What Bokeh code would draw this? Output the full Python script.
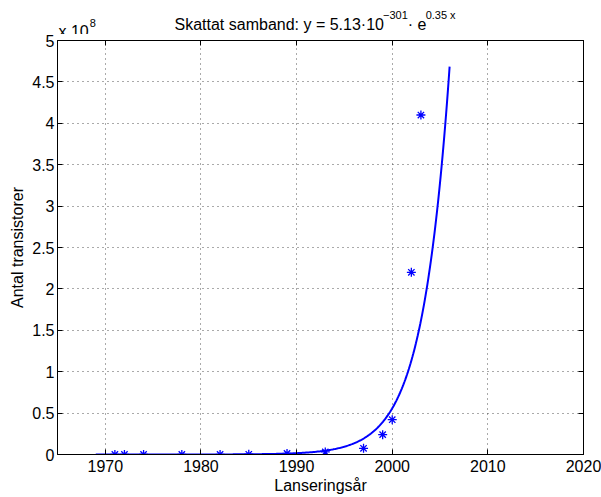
import numpy as np
from bokeh.plotting import figure
from bokeh.layouts import column
from bokeh.models import Range1d, LinearAxis, FixedTicker, ColumnDataSource
from bokeh.core.properties import value
from bokeh.embed import file_html
from bokeh.resources import INLINE

# data: launch year and transistor count
years = [1971, 1972, 1974, 1978, 1982, 1985, 1989, 1993, 1997, 1999, 2000, 2002, 2003]
transistors = [2300, 3500, 6000, 29000, 134000, 275000, 1200000, 3100000,
               7500000, 24000000, 42000000, 220000000, 410000000]

# fitted model y = a * exp(k x)
fit_mantissa = 5.13
fit_exp10 = -301
fit_k = 0.35464
fit_start, fit_end = 1969, 2006

x_ticks = [1970, 1980, 1990, 2000, 2010, 2020]
y_ticks = [0, 0.5, 1, 1.5, 2, 2.5, 3, 3.5, 4, 4.5, 5]
y_tick_labels = ["0", "0.5", "1", "1.5", "2", "2.5", "3", "3.5", "4", "4.5", "5"]
scale = 1e8

FONT = "Liberation Sans"
BLUE = "#0000ff"
FS = 16
SUP = 11

W, H = 601, 497
TOP_H = 34                     # strip holding the title and the multiplier
L, R, B = 57, 18, 43
T = 40 - TOP_H                 # remaining border above the frame
X0, X1, Y0, Y1 = 1965, 2020, 0, 5

# ---------------- main plot ----------------
p = figure(width=W, height=H - TOP_H, x_range=Range1d(X0, X1), y_range=Range1d(Y0, Y1),
           output_backend="svg", toolbar_location=None,
           min_border_left=L, min_border_right=R, min_border_top=T, min_border_bottom=B,
           x_axis_location=None, y_axis_location=None)
p.title = None
p.background_fill_color = "white"
p.border_fill_color = "white"
p.outline_line_color = "black"
p.outline_line_width = 1

xt = FixedTicker(ticks=x_ticks)
yt = FixedTicker(ticks=y_ticks)


def style_axis(ax, show_labels):
    ax.major_tick_in = 5
    ax.major_tick_out = 0
    ax.minor_tick_line_color = None
    ax.axis_line_color = "black"
    ax.major_tick_line_color = "black"
    ax.major_label_text_font = FONT
    ax.major_label_text_color = "black"
    ax.axis_label_text_font = FONT
    ax.axis_label_text_font_style = "normal"
    ax.axis_label_text_color = "black"
    if show_labels:
        ax.major_label_text_font_size = f"{FS}px"
        ax.axis_label_text_font_size = f"{FS}px"
    else:
        ax.major_label_text_font_size = "0px"


xb = LinearAxis(ticker=xt, axis_label="Lanseringsår")
style_axis(xb, True)
xb.major_label_standoff = 5
xb.axis_label_standoff = 2
p.add_layout(xb, "below")

yl = LinearAxis(ticker=yt, axis_label="Antal transistorer",
                major_label_overrides={v: s for v, s in zip(y_ticks, y_tick_labels)})
style_axis(yl, True)
yl.major_label_standoff = 3
yl.axis_label_standoff = 3
p.add_layout(yl, "left")

xa = LinearAxis(ticker=xt)
style_axis(xa, False)
p.add_layout(xa, "above")

yr = LinearAxis(ticker=yt)
style_axis(yr, False)
p.add_layout(yr, "right")

p.xgrid.ticker = xt
p.ygrid.ticker = yt
for g in (p.xgrid, p.ygrid):
    g.grid_line_color = "#555555"
    g.grid_line_dash = "1 4"
    g.grid_line_width = 1

# fitted curve (computed in log space from the model parameters)
xs = np.linspace(fit_start, fit_end, 400)
ln_a = np.log(fit_mantissa) + fit_exp10 * np.log(10)
ys = np.exp(ln_a + fit_k * xs) / scale
p.line(xs, ys, line_color=BLUE, line_width=2)

# data points
p.scatter(years, np.array(transistors) / scale, marker="asterisk", size=9,
          line_color=BLUE, line_width=1.3)

# ---------------- top strip (title + multiplier) ----------------
# its frame is aligned with the main frame by the column layout, so the x range
# spans the same page pixels (L .. W-R)
t = figure(width=W, height=TOP_H, x_range=Range1d(L, W - R), y_range=Range1d(TOP_H, 0),
           output_backend="svg", toolbar_location=None,
           min_border_left=L, min_border_right=R, min_border_top=0, min_border_bottom=0,
           x_axis_location=None, y_axis_location=None)
t.title = None
t.grid.visible = False
t.outline_line_color = None
t.background_fill_color = "white"
t.border_fill_color = "white"

# Arial/Liberation advance widths (per 1000 em)
AW = {"S": 667, "k": 500, "a": 556, "t": 278, " ": 278, "s": 500, "m": 833, "b": 556,
      "n": 556, "d": 556, ":": 278, "y": 500, "=": 584, "5": 556, ".": 278, "1": 556,
      "3": 556, "·": 278, "0": 556, "e": 556, "−": 584, "x": 500, "8": 556}


def tw(s, size):
    return sum(AW.get(c, 556) for c in s) * size / 1000.0


title_parts = [("Skattat samband: y = 5.13·10", FS, 24), ("−301", SUP, 14),
               ("· e", FS, 24), ("0.35 x", SUP, 14)]
mult_parts = [("x 10", FS, 30.5), ("8", SUP, 22)]

tx, ty, ttxt, tsz = [], [], [], []
xpos = 174.0
for s, sz, base in title_parts:
    tx.append(xpos); ty.append(base); ttxt.append(s); tsz.append(f"{sz}px")
    xpos += tw(s, sz)
xpos = 58.0
for s, sz, base in mult_parts:
    tx.append(xpos); ty.append(base); ttxt.append(s); tsz.append(f"{sz}px")
    xpos += tw(s, sz) + 1

src = ColumnDataSource(dict(x=tx, y=ty, text=ttxt, size=tsz))
t.text(x="x", y="y", text="text", text_font_size="size", source=src,
       text_font=value(FONT), text_color="black",
       text_baseline="alphabetic", text_align="left")

layout = column(t, p, spacing=0)

with open("out.html", "w") as f:
    f.write(file_html(layout, INLINE))
